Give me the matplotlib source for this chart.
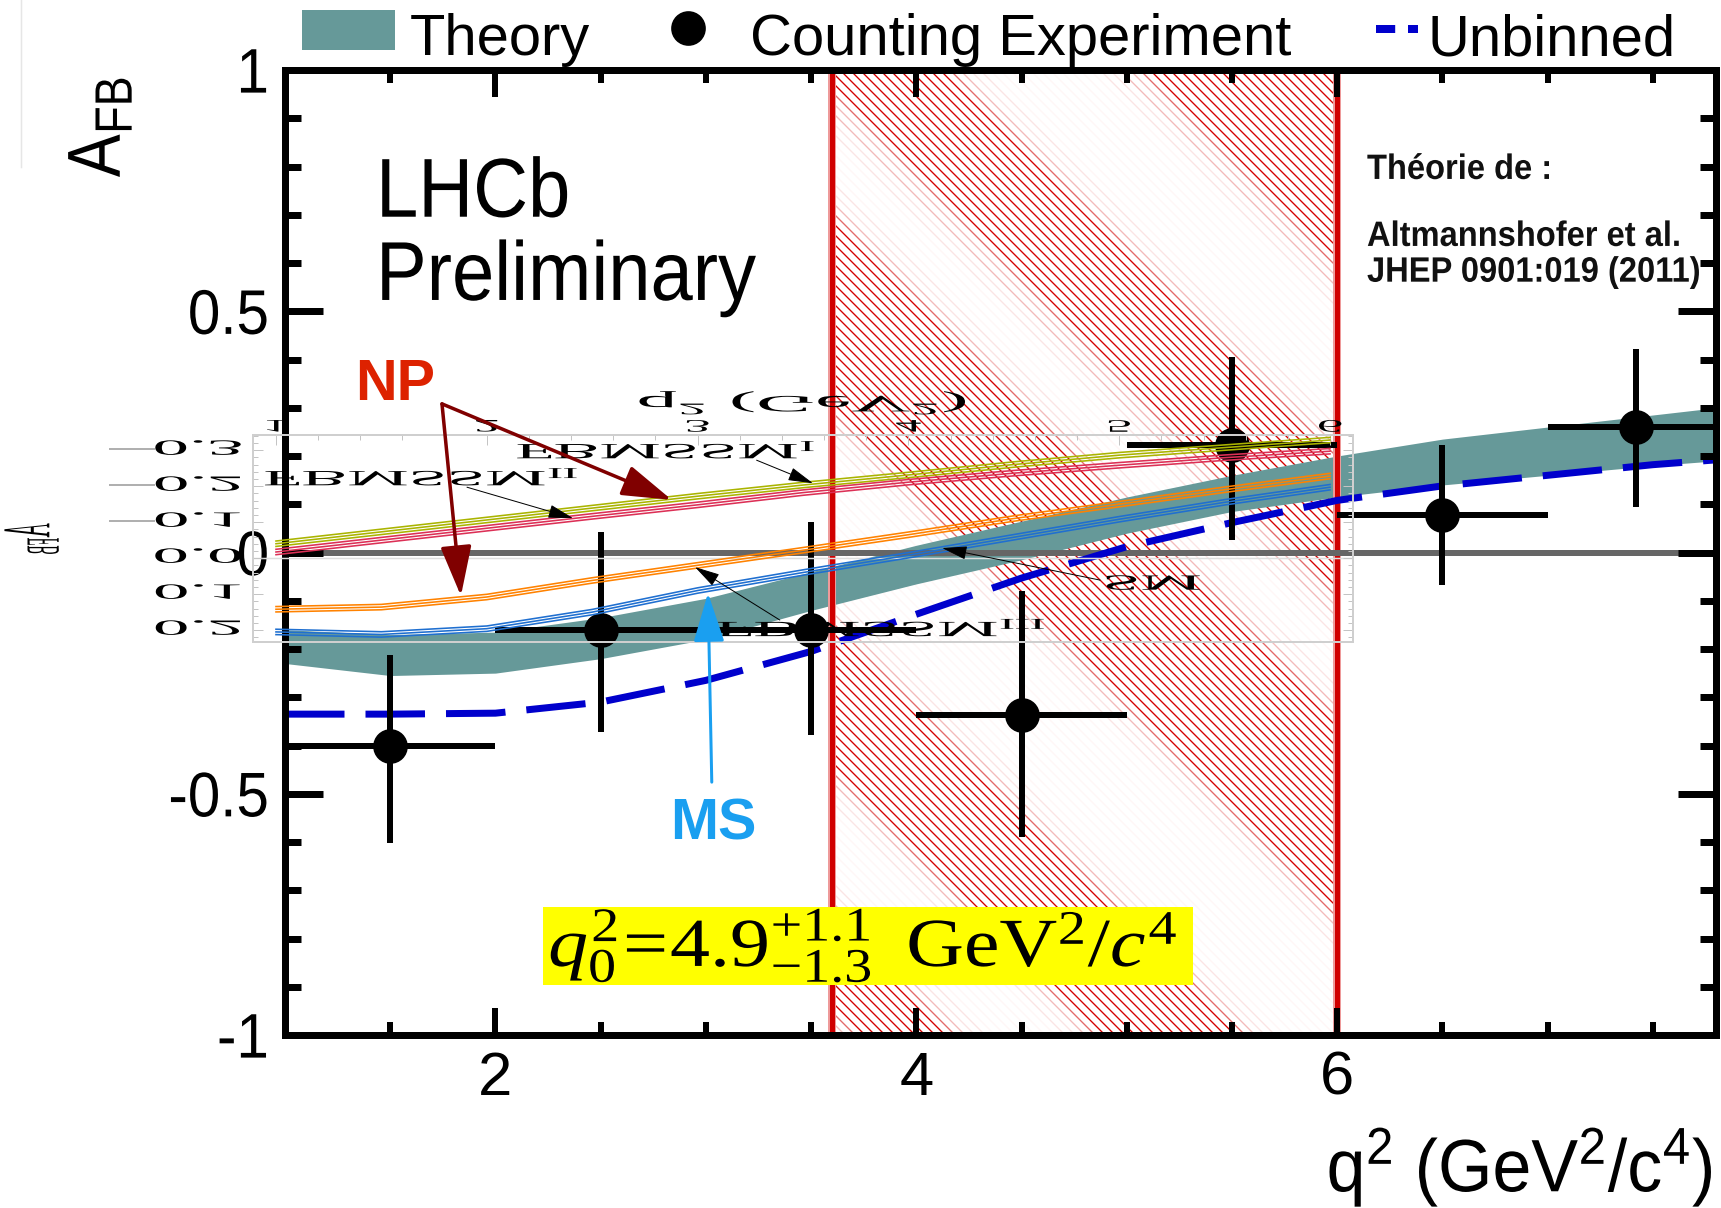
import matplotlib
matplotlib.use("Agg")
import matplotlib.pyplot as plt
from matplotlib.patches import Rectangle, FancyArrowPatch
from matplotlib.lines import Line2D
from matplotlib.collections import LineCollection
from matplotlib.patheffects import AbstractPathEffect
from matplotlib.transforms import Affine2D
from matplotlib.ticker import MultipleLocator
import numpy as np

# ------------------------------------------------------------------ data
theory_q2 = [1.0, 1.5, 2.0, 2.5, 3.0, 3.5, 4.0, 4.5, 5.0, 5.5, 6.0, 6.5, 7.0, 7.5, 7.8]
theory_low = [-0.23, -0.255, -0.25, -0.22, -0.18, -0.12, -0.065, -0.015, 0.04, 0.085,
              0.115, 0.14, 0.16, 0.18, 0.19]
theory_high = [-0.16, -0.17, -0.165, -0.135, -0.095, -0.04, 0.015, 0.065, 0.115, 0.16,
               0.20, 0.235, 0.26, 0.285, 0.30]

unbinned_q2 = [1.0, 1.5, 2.0, 2.5, 3.0, 3.5, 4.0, 4.5, 5.0, 5.5, 6.0, 6.5, 7.0, 7.5, 7.8]
unbinned_afb = [-0.335, -0.335, -0.333, -0.31, -0.265, -0.205, -0.128, -0.053, 0.012,
                0.062, 0.108, 0.138, 0.16, 0.182, 0.192]

count_q2 = [1.5, 2.5, 3.5, 4.5, 5.5, 6.5, 7.42]
count_q2_left = [0.5, 0.5, 0.5, 0.5, 0.5, 0.5, 0.42]
count_q2_right = [0.5, 0.5, 0.5, 0.5, 0.5, 0.5, 0.58]
count_afb = [-0.402, -0.161, -0.161, -0.337, 0.223, 0.078, 0.26]
count_err_down = [0.20, 0.211, 0.218, 0.253, 0.197, 0.145, 0.166]
count_err_up = [0.19, 0.204, 0.224, 0.258, 0.183, 0.145, 0.162]

q0_central, q0_err_up, q0_err_down = 4.9, 1.1, 1.3

# flipped theory inset (Altmannshofer et al.), A_FB in theory sign convention
inset_q2 = [1.0, 1.5, 2.0, 2.5, 3.0, 3.5, 4.0, 4.5, 5.0, 5.5, 6.0]
fbmssm_1 = [-0.040, -0.073, -0.106, -0.139, -0.172, -0.203, -0.231, -0.260, -0.286, -0.307, -0.328]
fbmssm_2 = [-0.017, -0.050, -0.083, -0.116, -0.148, -0.182, -0.211, -0.236, -0.258, -0.279, -0.297]
fbmssm_3 = [0.142, 0.136, 0.108, 0.062, 0.020, -0.022, -0.065, -0.110, -0.150, -0.190, -0.228]
sm_curve = [0.205, 0.212, 0.196, 0.150, 0.090, 0.040, -0.008, -0.058, -0.108, -0.155, -0.197]

x_ticks = [2, 4, 6]
x_ticklabels = ["2", "4", "6"]
y_ticks = [-1, -0.5, 0, 0.5, 1]
y_ticklabels = ["-1", "-0.5", "0", "0.5", "1"]
inset_xticks = [1, 2, 3, 4, 5, 6]
inset_yticks = [-0.3, -0.2, -0.1, 0.0, 0.1, 0.2]
inset_yticklabels = ["0.3", "0.2", "0.1", "0.0", "0.1", "0.2"]

legend_labels = ["Theory", "Counting Experiment", "Unbinned"]

# ------------------------------------------------------------------ style
DPI = 120
PX = 72.0 / DPI          # points per pixel
FW, FH = 1721, 1208
AX_L, AX_T, AX_W, AX_H = 285, 70, 1431, 965

TEAL = "#669999"
DASH_BLUE = "#0000cc"

plt.rcParams["font.family"] = ["Liberation Sans", "DejaVu Sans"]
plt.rcParams["mathtext.default"] = "regular"
plt.rcParams["mathtext.fontset"] = "custom"
plt.rcParams["mathtext.rm"] = "Liberation Serif"
plt.rcParams["mathtext.it"] = "Liberation Serif:italic"
plt.rcParams["mathtext.bf"] = "Liberation Serif:bold"


class Warp(AbstractPathEffect):
    """Scale (and optionally mirror) the glyph outline about its centre."""

    def __init__(self, sx=1.0, sy=1.0):
        super().__init__()
        self.sx, self.sy = sx, sy

    def draw_path(self, renderer, gc, tpath, affine, rgbFace=None):
        ext = tpath.get_extents()
        cx = 0.5 * (ext.x0 + ext.x1)
        cy = 0.5 * (ext.y0 + ext.y1)
        local = Affine2D().translate(-cx, -cy).scale(self.sx, self.sy).translate(cx, cy)
        renderer.draw_path(gc, tpath, local + affine, rgbFace)


def fx(px):
    return (px - AX_L) / AX_W


def fy(py):
    return (AX_T + AX_H - py) / AX_H


fig = plt.figure(figsize=(FW / DPI, FH / DPI), dpi=DPI)
fig.patch.set_facecolor("white")
ax = fig.add_axes([AX_L / FW, (FH - AX_T - AX_H) / FH, AX_W / FW, AX_H / FH])
ax.set_xlim(1, 7.8)
ax.set_ylim(-1, 1)
ax.set_autoscale_on(False)

# ------------------------------------------------------------------ hatched q0 region
q_lo = q0_central - q0_err_down
q_hi = q0_central + q0_err_up

# hatch texture: 45-degree lines every 10 px; the scanned original shows moire stripes,
# given as (centre, half width) along x - y in pixels, with fading fringes.
HATCH_STEP = 10
moire_bands = [(-130, 40), (135, 65), (520, 90), (808, 63), (1175, 100)]
fringe_levels = [(0, "#d40000"), (12, "#e46a6a"), (28, "#f3baba"), (45, "#fbe4e4")]
hatch_base = "#fff6f6"

segs, cols = [], []
for c in np.arange(-260, 1300, HATCH_STEP):
    dist = min(max(abs(c - ctr) - half, 0) for ctr, half in moire_bands)
    col = hatch_base
    for lim, lc in fringe_levels:
        if dist <= lim:
            col = lc
            break
    segs.append([(fx(c + AX_T), fy(AX_T)), (fx(c + AX_T + AX_H), fy(AX_T + AX_H))])
    cols.append(col)
hatch = LineCollection(segs, colors=cols, linewidths=1.35 * PX, transform=ax.transAxes,
                       zorder=1)
ax.add_collection(hatch, autolim=False)
hatch.set_clip_path(Rectangle((q_lo, -1), q_hi - q_lo, 2, transform=ax.transData))

# ------------------------------------------------------------------ main content
ax.fill_between(theory_q2, theory_low, theory_high, color=TEAL, linewidth=0, zorder=2)

for qv in (q_lo, q_hi):
    ax.axvline(qv, color="#ee9a9a", lw=8 * PX, zorder=3)
    ax.axvline(qv, color="#d00000", lw=5 * PX, zorder=3.1)

ax.axhline(0, color="#666666", lw=6 * PX, zorder=3.5)

ax.plot(unbinned_q2, unbinned_afb, color=DASH_BLUE, lw=7 * PX, dashes=(8.5, 3.0),
        zorder=4, solid_capstyle="butt", dash_capstyle="butt")

ax.errorbar(count_q2, count_afb, xerr=[count_q2_left, count_q2_right],
            yerr=[count_err_down, count_err_up], fmt="o", color="black",
            ms=33 * PX, elinewidth=6 * PX, capsize=0, zorder=5)

# ------------------------------------------------------------------ axes styling
for sp in ax.spines.values():
    sp.set_linewidth(7 * PX)
    sp.set_zorder(10)
ax.xaxis.set_zorder(10)
ax.yaxis.set_zorder(10)

ax.set_xticks(x_ticks)
ax.set_xticklabels(x_ticklabels)
ax.set_yticks(y_ticks)
ax.set_yticklabels(y_ticklabels)
ax.xaxis.set_minor_locator(MultipleLocator(0.5))
ax.yaxis.set_minor_locator(MultipleLocator(0.1))
ax.tick_params(which="both", direction="in", top=True, right=True)
ax.tick_params(axis="x", which="major", length=27 * PX, width=6 * PX, pad=9.5, labelsize=37)
ax.tick_params(axis="x", which="minor", length=13 * PX, width=6 * PX)
ax.tick_params(axis="y", which="major", length=38 * PX, width=7 * PX, pad=9.6, labelsize=35)
ax.tick_params(axis="y", which="minor", length=16 * PX, width=7 * PX)
for lab in ax.get_yticklabels():
    lab.set_path_effects([Warp(1, 1.08)])

ax.text(fx(1713), fy(1190), "q$^{2}$ (GeV$^{2}$/c$^{4}$)", transform=ax.transAxes,
        ha="right", va="baseline", fontsize=42, path_effects=[Warp(1, 1.06)])
ax.text(fx(100), fy(127), "A$_{FB}$", transform=ax.transAxes, rotation=90,
        ha="center", va="center", fontsize=38.5, path_effects=[Warp(1, 1.17)])

ax.text(fx(376), fy(214), "LHCb", transform=ax.transAxes, ha="left", va="baseline",
        fontsize=45.6, path_effects=[Warp(1, 1.1)], zorder=6)
ax.text(fx(376), fy(298), "Preliminary", transform=ax.transAxes, ha="left", va="baseline",
        fontsize=45.6, path_effects=[Warp(1, 1.1)], zorder=6)

for txt, py in [("Théorie de :", 178), ("Altmannshofer et al.", 245),
                ("JHEP 0901:019 (2011)", 281)]:
    ax.text(fx(1367), fy(py), txt, transform=ax.transAxes, ha="left", va="baseline",
            fontsize=19.6, fontweight="bold", color="#111111",
            path_effects=[Warp(1, 1.08)], zorder=6)

ax.text(fx(355), fy(400), "NP", transform=ax.transAxes, ha="left", va="baseline",
        fontsize=34.5, fontweight="bold", color="#dd2200", zorder=6)
ax.text(fx(670), fy(840), "MS", transform=ax.transAxes, ha="left", va="baseline",
        fontsize=34.5, fontweight="bold", color="#1a9ff0", zorder=6)

# yellow result box
ax.add_patch(Rectangle((fx(543), fy(985)), 650 / AX_W, 78 / AX_H, transform=ax.transAxes,
                       facecolor="#ffff00", edgecolor="none", zorder=6))
q0_label = (r"$\mathit{q}_{0}^{2}\!=\!%.1f^{+%.1f}_{-%.1f}\;\;\mathrm{GeV}^{2}/\mathit{c}^{4}$"
            % (q0_central, q0_err_up, q0_err_down))
ax.text(fx(863), fy(946), q0_label, transform=ax.transAxes, ha="center", va="center",
        fontsize=48, fontfamily="Liberation Serif", color="black",
        path_effects=[Warp(1, 0.86)], zorder=7)

# ------------------------------------------------------------------ flipped inset
IN_L, IN_T, IN_R, IN_B = 253, 435, 1353, 642
ax_in = fig.add_axes([IN_L / FW, (FH - IN_B) / FH, (IN_R - IN_L) / FW, (IN_B - IN_T) / FH])
ax_in.patch.set_visible(False)
ax_in.set_xlim(0.891, 6.109)
ax_in.set_ylim(0.233, -0.342)
for sp in ax_in.spines.values():
    sp.set_color("#cfcfcf")
    sp.set_linewidth(2 * PX)
ax_in.set_xticks(inset_xticks)
ax_in.xaxis.set_minor_locator(MultipleLocator(0.2))
ax_in.set_yticks(inset_yticks)
ax_in.yaxis.set_minor_locator(MultipleLocator(0.02))
ax_in.tick_params(which="both", direction="in", colors="#c4c4c4", width=1 * PX,
                  labelleft=False, labelbottom=False, labeltop=False, labelright=False,
                  left=True, right=True, top=True, bottom=False)
ax_in.tick_params(which="major", length=10 * PX)
ax_in.tick_params(which="minor", length=5 * PX)
ax_in.axhline(0, color="#dddddd", lw=1.5 * PX, zorder=0.5)

offsets = [-0.0075, 0.0, 0.0075]
for vals, col in [(fbmssm_1, "#aab400"), (fbmssm_2, "#dc3056"),
                  (fbmssm_3, "#ff8200"), (sm_curve, "#1f6fd0")]:
    v = np.asarray(vals)
    for off in offsets:
        ax_in.plot(inset_q2, v + off, color=col, lw=1.6 * PX, zorder=3)

SERIF = "Liberation Serif"
for xv in inset_xticks:
    ax_in.text(xv, -0.364, str(xv), ha="center", va="center", fontsize=10.5,
               fontfamily=SERIF, path_effects=[Warp(3.0, -1)], clip_on=False)
for yv, lab in zip(inset_yticks, inset_yticklabels):
    ax_in.text(0.63, yv, lab, ha="center", va="center", fontsize=13,
               fontfamily=SERIF, path_effects=[Warp(3.36, -1)], clip_on=False)
    if yv < 0:
        ax_in.text(0.317, yv, "\u2212", ha="center", va="center", fontsize=11,
                   fontfamily=SERIF, color="#b0b0b0", path_effects=[Warp(5.5, -2.2)],
                   clip_on=False)
ax_in.text(3.50, -0.431, "q$^{2}$ (GeV$^{2}$)", ha="center", va="center", fontsize=14,
           fontfamily=SERIF, path_effects=[Warp(3.5, -1)], clip_on=False)
ax_in.text(-0.153, -0.056, "A$_{FB}$", ha="center", va="center", rotation=90, fontsize=34,
           fontfamily=SERIF, path_effects=[Warp(-0.35, 1.2)], clip_on=False)

# (label, label centre q, label centre A, arrow start, arrow tip)
inset_notes = [("FBMSSM$_{I}$", 2.85, -0.300, (3.28, -0.272), (3.547, -0.208)),
               ("FBMSSM$_{II}$", 1.69, -0.225, (1.906, -0.197), (2.409, -0.111)),
               ("SM", 5.16, 0.075, (4.909, 0.061), (4.16, -0.028)),
               ("FBMSSM$_{III}$", 3.87, 0.194, (3.39, 0.172), (2.988, 0.025))]
for txt, tx, ty, start, tip in inset_notes:
    ax_in.text(tx, ty, txt, ha="center", va="center", fontsize=13,
               fontfamily=SERIF, path_effects=[Warp(3.18, -1)], clip_on=False, zorder=4)
    ax_in.annotate("", xy=tip, xytext=start, annotation_clip=False,
                   arrowprops=dict(arrowstyle="-|>,head_length=1.3,head_width=0.35",
                                   mutation_scale=10, color="black", lw=0.6,
                                   shrinkA=0, shrinkB=0), zorder=4)

# ------------------------------------------------------------------ NP / MS arrows (on top)
np_start = (1.746, 0.308)
for tip in [(2.838, 0.109), (1.836, -0.090)]:
    fig.add_artist(FancyArrowPatch(np_start, tip, transform=ax.transData,
                                   arrowstyle="-|>,head_length=1.29,head_width=0.40",
                                   mutation_scale=20, color="#800000", lw=3.5 * PX,
                                   shrinkA=0, shrinkB=0, zorder=5))
fig.add_artist(FancyArrowPatch((3.028, -0.476), (3.010, -0.084), transform=ax.transData,
                               arrowstyle="-|>,head_length=1.27,head_width=0.40",
                               mutation_scale=20, color="#1a9ff0", lw=3 * PX,
                               shrinkA=0, shrinkB=0, zorder=5))

# ------------------------------------------------------------------ legend row above frame
fig.add_artist(Rectangle((302 / FW, 1 - 50 / FH), 93 / FW, 40 / FH, transform=fig.transFigure,
                         facecolor=TEAL, edgecolor="none"))
fig.add_artist(Line2D([688 / FW], [1 - 28 / FH], transform=fig.transFigure, marker="o",
                      ms=33 * PX, color="black", linestyle="none"))
fig.add_artist(Line2D([1376 / FW, 1418 / FW], [1 - 29 / FH, 1 - 29 / FH],
                      transform=fig.transFigure, color=DASH_BLUE, lw=8 * PX,
                      dashes=(2.4, 1.6), dash_capstyle="butt"))
for lab, px_left in zip(legend_labels, [410, 750, 1427]):
    fig.text(px_left / FW, 1 - 55 / FH, lab, ha="left", va="baseline", fontsize=34.8)

fig.add_artist(Line2D([21 / FW, 21 / FW], [1, 1 - 167 / FH], transform=fig.transFigure,
                      color="#e6e6e6", lw=1.5 * PX))

fig.savefig("out.png", dpi=DPI)
